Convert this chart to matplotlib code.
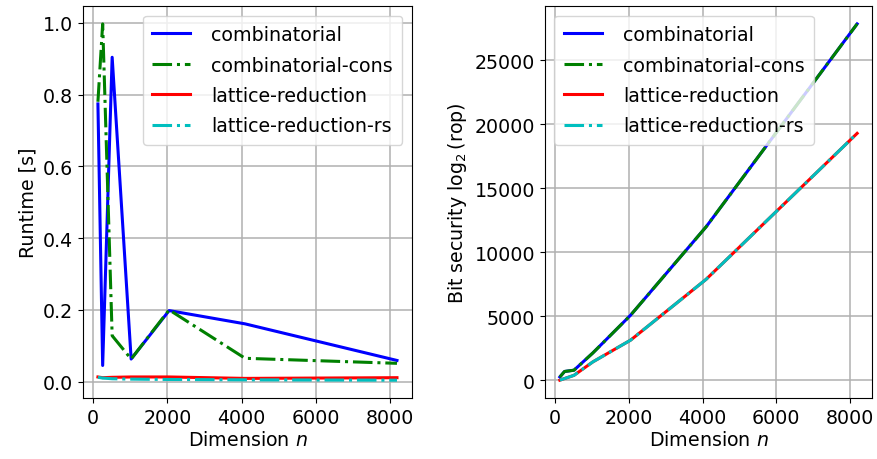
import numpy as np
import matplotlib
matplotlib.use('Agg')
import matplotlib.pyplot as plt

# dimensions
n = [128, 256, 512, 1024, 2048, 4096, 8192]

# runtime [s]
rt_comb = [0.774, 0.045, 0.904, 0.063, 0.198, 0.161, 0.059]
rt_comb_cons = [0.78, 0.997, 0.128, 0.063, 0.200, 0.065, 0.051]
rt_lat = [0.013, 0.011, 0.012, 0.013, 0.013, 0.009, 0.011]
rt_lat_rs = [0.012, 0.010, 0.008, 0.007, 0.006, 0.005, 0.004]

# bit security log2(rop)
bs_comb = [270, 700, 800, 2150, 5100, 12000, 27850]
bs_comb_cons = [270, 700, 800, 2150, 5100, 12000, 27850]
bs_lat = [20, 150, 400, 1450, 3150, 7900, 19300]
bs_lat_rs = [20, 150, 400, 1450, 3150, 7900, 19300]

labels = ['combinatorial', 'combinatorial-cons', 'lattice-reduction', 'lattice-reduction-rs']

plt.rcParams['font.size'] = 13.7

fig = plt.figure(figsize=(8.77, 4.6), dpi=100)
ax1 = fig.add_axes([0.0946, 0.1326, 0.3751, 0.852])
ax2 = fig.add_axes([0.6214, 0.1326, 0.3729, 0.852])

for ax, data in [(ax1, [rt_comb, rt_comb_cons, rt_lat, rt_lat_rs]),
                 (ax2, [bs_comb, bs_comb_cons, bs_lat, bs_lat_rs])]:
    ax.plot(n, data[0], 'b-', lw=2.2, label=labels[0])
    ax.plot(n, data[1], 'g-.', lw=2.2, label=labels[1])
    ax.plot(n, data[2], 'r-', lw=2.2, label=labels[2])
    ax.plot(n, data[3], 'c-.', lw=2.2, label=labels[3])
    ax.grid(True, color='#b0b0b0', lw=1.1)
    ax.set_xlabel('Dimension $n$', labelpad=2)
    ax.legend(loc='upper right' if ax is ax1 else 'upper left',
              borderaxespad=0.5, labelspacing=0.6, handletextpad=1.1,
              borderpad=0.5)
    ax.set_xticks([0, 2000, 4000, 6000, 8000])

ax1.set_ylabel('Runtime [s]')
ax2.set_ylabel('Bit security $\\log_2$(rop)')

fig.savefig('out.png', dpi=100)
